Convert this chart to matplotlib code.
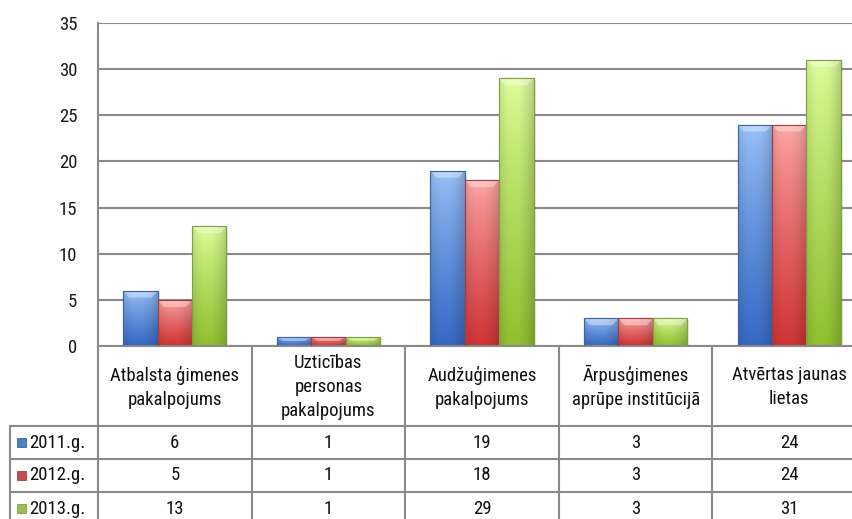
import numpy as np
import matplotlib
matplotlib.use("Agg")
import matplotlib.pyplot as plt
from matplotlib.patches import Rectangle, Polygon
from matplotlib.lines import Line2D

plt.rcParams['font.family'] = ['Roboto Condensed', 'DejaVu Sans']

categories = [
    "Atbalsta ģimenes\npakalpojums",
    "Uzticības\npersonas\npakalpojums",
    "Audžuģimenes\npakalpojums",
    "Ārpusģimenes\naprūpe institūcijā",
    "Atvērtas jaunas\nlietas",
]
series_names = ["2011.g.", "2012.g.", "2013.g."]
v2011 = [6, 1, 19, 3, 24]
v2012 = [5, 1, 18, 3, 24]
v2013 = [13, 1, 29, 3, 31]
values = [v2011, v2012, v2013]
yticks = [0, 5, 10, 15, 20, 25, 30, 35]

# colours: (top, bottom, edge, key)
palette = [
    ("#9cc4fa", "#3769c4", "#3d64a6", "#4f81bd"),
    ("#ffaaaa", "#cf3434", "#a83c3c", "#c0504d"),
    ("#e0ff9c", "#8fc030", "#7f9f45", "#9bbb59"),
]

W, H = 853, 519
fig = plt.figure(figsize=(W / 100, H / 100), dpi=100)

# pixel geometry of the plot area
px_left, px_right = 98, 866
px_top, px_zero = 23, 346
cat_w = (px_right - px_left) / len(categories)

fs = 13.5

ax = fig.add_axes([px_left / W, (H - px_zero) / H,
                   (px_right - px_left) / W, (px_zero - px_top) / H])
ax.set_xlim(-0.5, len(categories) - 0.5)
ax.set_ylim(0, 35)
ax.set_yticks(yticks)
ax.set_xticks([])
ax.tick_params(axis='y', length=0, pad=15, labelsize=fs, colors='#1a1a1a')
for s in ['top', 'right']:
    ax.spines[s].set_visible(False)
for s in ['left', 'bottom']:
    ax.spines[s].set_color('#8a8a8a')
    ax.spines[s].set_linewidth(1.5)
ax.yaxis.grid(True, color='#8a8a8a', linewidth=1.5)
ax.set_axisbelow(True)

bw = 0.224
x = np.arange(len(categories))
ypx = 35 / (px_zero - px_top)  # data units per pixel
xpx = 1 / cat_w


def gradient(top, bottom):
    t = np.linspace(0, 1, 64)[:, None]
    c1 = np.array(matplotlib.colors.to_rgb(top))
    c2 = np.array(matplotlib.colors.to_rgb(bottom))
    tt = t ** 0.8
    col = c1[None, None, :] * (1 - tt[..., None]) + c2[None, None, :] * tt[..., None]
    col = np.repeat(col, 24, axis=1)
    u = np.linspace(-1, 1, 24)
    shade = 1 - 0.18 * np.clip(np.abs(u + 0.15) - 0.2, 0, None) ** 1.5
    col = col * shade[None, :, None]
    return np.clip(col, 0, 1)


for k, vals in enumerate(values):
    top, bottom, edge, key = palette[k]
    bars = ax.bar(x + (k - 1) * bw, vals, width=bw, color=key,
                  edgecolor=edge, linewidth=0.8, zorder=2,
                  label=series_names[k])
    img = gradient(top, bottom)
    for b in bars:
        x0, y0 = b.get_x(), b.get_y()
        w, h = b.get_width(), b.get_height()
        im = ax.imshow(img, extent=[x0, x0 + w, y0, y0 + h], aspect='auto',
                       zorder=2.5, interpolation='bilinear')
        im.set_clip_path(b)
        # top bevel highlight
        bh = min(7 * ypx, h * 0.45)
        bx = 6 * xpx
        poly = Polygon([[x0, y0 + h], [x0 + w, y0 + h],
                        [x0 + w - bx, y0 + h - bh], [x0 + bx, y0 + h - bh]],
                       closed=True, facecolor='white', alpha=0.35,
                       edgecolor='none', zorder=2.7)
        ax.add_patch(poly)
        ax.add_patch(Rectangle((x0, y0), w, h, fill=False, edgecolor=edge,
                               linewidth=0.8, zorder=2.8))
        # soft shadow on right
        ax.add_patch(Rectangle((x0 + w, y0), 2 * xpx, h - 2 * ypx,
                               facecolor='#000000', alpha=0.08,
                               edgecolor='none', zorder=1.9))

ax.set_xlim(-0.5, len(categories) - 0.5)
ax.set_ylim(0, 35)

# ---- data table ----
tax = fig.add_axes([px_left / W, 0, (px_right - px_left) / W, (H - px_zero) / H])
tax.set_xlim(-0.5, len(categories) - 0.5)
tax.set_ylim(H, px_zero)
tax.axis('off')

lc = '#8a8a8a'
lw = 1.5
def px2x(p):
    return -0.5 + (p - px_left) / cat_w

header_bottom = 426
row_edges = [426, 459, 492, 525]
left_px = 9.5

# horizontal lines
for yy in row_edges[:-1]:
    tax.add_line(Line2D([px2x(left_px), len(categories) - 0.5], [yy, yy],
                        color=lc, lw=lw, clip_on=False))
# vertical lines
for b in np.arange(len(categories) + 1) - 0.5:
    tax.add_line(Line2D([b, b], [px_zero, H + 5], color=lc, lw=lw, clip_on=False))
tax.add_line(Line2D([px2x(left_px)] * 2, [header_bottom, H + 5], color=lc, lw=lw,
                    clip_on=False))

for i, c in enumerate(categories):
    tax.text(i, (px_zero + header_bottom) / 2 + 1, c, ha='center', va='center',
             fontsize=fs, linespacing=1.45, color='#111111')
for r, vals in enumerate(values):
    yc = (row_edges[r] + row_edges[r + 1]) / 2
    for i, v in enumerate(vals):
        tax.text(i, yc, str(v), ha='center', va='center', fontsize=fs,
                 color='#111111')
    key = palette[r][3]
    tax.add_patch(Rectangle((px2x(17), yc - 4.5), 9 * xpx, 9, facecolor=key,
                            edgecolor=palette[r][2], linewidth=0.6,
                            clip_on=False))
    tax.text(px2x(29), yc, series_names[r], ha='left', va='center', fontsize=fs,
             color='#111111', clip_on=False)

fig.savefig("out.png", dpi=100)
